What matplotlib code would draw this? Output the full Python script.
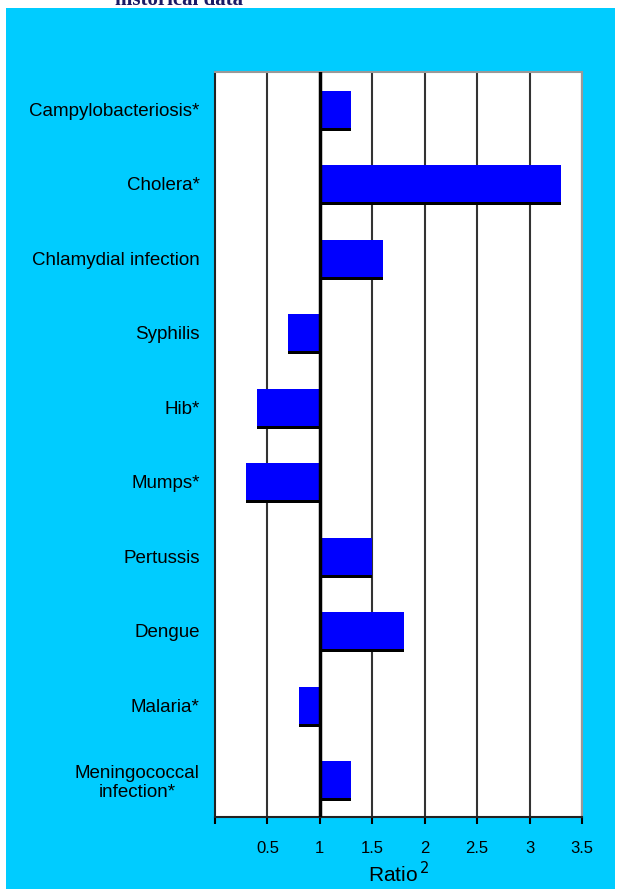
import matplotlib.pyplot as plt
from matplotlib.patches import Rectangle

enfermedades = ['Campylobacteriosis*', 'Cholera*', 'Chlamydial infection', 'Syphilis',
                'Hib*', 'Mumps*', 'Pertussis', 'Dengue', 'Malaria*', 'Meningococcal\ninfection*']
ratios = [1.3, 3.3, 1.6, 0.7, 0.4, 0.3, 1.5, 1.8, 0.8, 1.3]
ticks = [0.5, 1, 1.5, 2, 2.5, 3, 3.5]
tick_labels = ['0.5', '1', '1.5', '2', '2.5', '3', '3.5']

plt.rcParams['font.family'] = ['Liberation Sans', 'DejaVu Sans']

fig = plt.figure(figsize=(6.19, 8.89), dpi=100, facecolor='white')

# panel cian de fondo
fig.patches.append(Rectangle((6 / 619, 0), 609 / 619, 881 / 889, transform=fig.transFigure,
                             facecolor='#00CCFF', edgecolor='none', zorder=-10))
fig.text(115 / 619, 1.0, 'historical data', family='Liberation Serif', weight='bold',
         color='#1a1a66', fontsize=15, va='center', ha='left')

ax = fig.add_axes([215 / 619, 72 / 889, 367 / 619, 745 / 889])
ax.set_zorder(5)
ax.set_facecolor('white')

y = list(range(len(enfermedades)))
anchos = [r - 1 for r in ratios]

# sombra y barras
ax.barh([v + 0.04 for v in y], anchos, left=1, height=0.5, color='black', zorder=2)
ax.barh(y, anchos, left=1, height=0.5, color='#0000FF', zorder=3)

ax.set_xlim(0, 3.5)
ax.set_ylim(len(enfermedades) - 0.5, -0.5)

for t in ticks:
    if t == 1:
        ax.axvline(t, color='black', lw=2.5, zorder=4)
    else:
        ax.axvline(t, color='#333333', lw=1.5, zorder=1)

ax.set_xticks([0] + ticks)
ax.set_xticklabels([''] + tick_labels, fontsize=12)
ax.tick_params(axis='x', direction='out', length=5, width=1.5, pad=12)
ax.set_yticks(y)
ax.set_yticklabels(enfermedades, fontsize=13.5, multialignment='center')
ax.tick_params(axis='y', length=0, pad=11)

for lado in ['top', 'right']:
    ax.spines[lado].set_color('#999999')
    ax.spines[lado].set_linewidth(1.5)
for lado in ['left', 'bottom']:
    ax.spines[lado].set_color('#222222')
    ax.spines[lado].set_linewidth(1.5)

ax.set_xlabel('Ratio$^{\\,2}$', fontsize=15, labelpad=4)

plt.savefig('out.png', dpi=100, facecolor='white')
